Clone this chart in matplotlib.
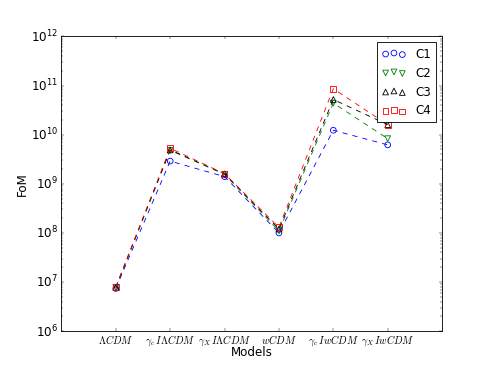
import numpy as np
from matplotlib import pyplot as plt

plt.style.use('classic')
plt.rcParams['mathtext.fontset'] = 'cm'
plt.rcParams['font.size'] = 14

models = [r'$\Lambda CDM$', r'$\gamma_c\, I\Lambda CDM$', r'$\gamma_X\, I\Lambda CDM$',
          r'$wCDM$', r'$\gamma_c\, IwCDM$', r'$\gamma_X\, IwCDM$']
labels = ['C1', 'C2', 'C3', 'C4']
c1 = [7.4e6, 2.9e9, 1.4e9, 1.0e8, 1.23e10, 6.2e9]
c2 = [7.7e6, 4.8e9, 1.55e9, 1.1e8, 4.4e10, 8.3e9]
c3 = [7.8e6, 4.9e9, 1.6e9, 1.2e8, 5.2e10, 1.6e10]
c4 = [7.9e6, 5.3e9, 1.6e9, 1.3e8, 8.6e10, 1.6e10]

styles = [('b', 'o'), ('g', 'v'), ('k', '^'), ('r', 's')]

fig = plt.figure(figsize=(8, 6), dpi=61.4)
ax = fig.add_subplot(111)
x = np.arange(1, len(models) + 1)
for vals, lab, (col, mk) in zip([c1, c2, c3, c4], labels, styles):
    ax.plot(x, vals, '--', color=col)
    ax.scatter(x, vals, s=45, marker=mk, facecolors='none', edgecolors=col, label=lab)

ax.set_yscale('log')
ax.set_ylim(1e6, 1e12)
ax.set_xlim(0, 7)
ax.set_xticks(x)
ax.set_xticklabels(models, fontsize=12)
ax.tick_params(axis='x', pad=2)
ax.set_xlabel('Models')
ax.set_ylabel('FoM')
ax.xaxis.set_label_coords(0.5, -0.05)
ax.yaxis.set_label_coords(-0.085, 0.5)
ax.legend(loc='upper right', scatterpoints=3, fontsize=14)

fig.savefig('out.png', dpi=61.4)
